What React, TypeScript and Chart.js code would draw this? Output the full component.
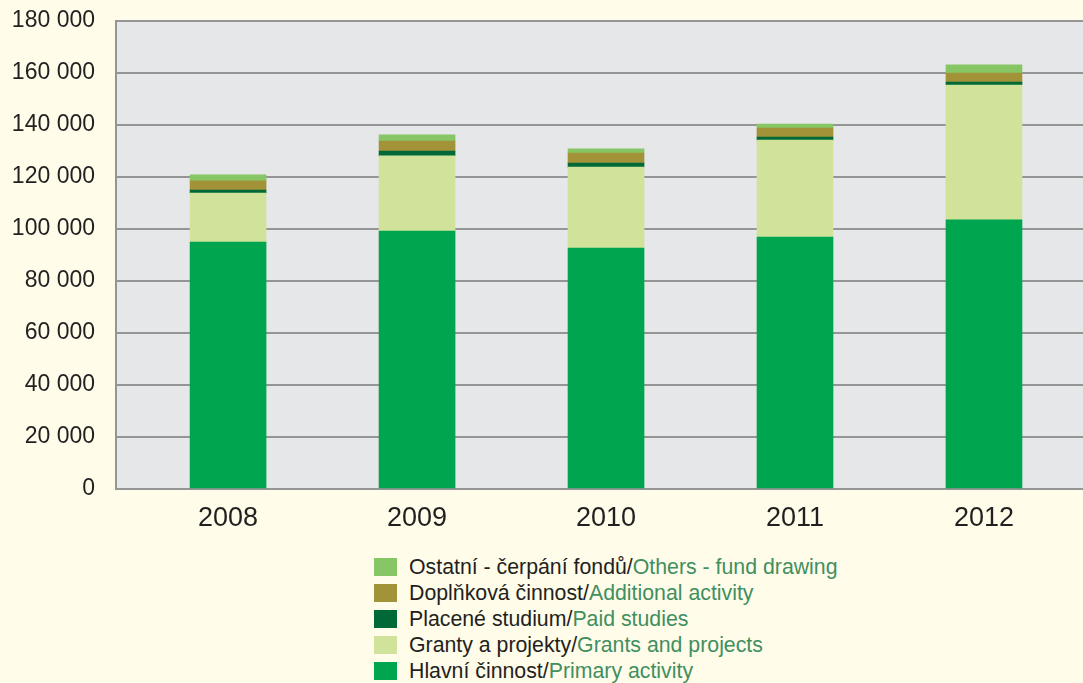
import React, { useEffect, useRef } from "react";
import { Chart, registerables } from "chart.js";

Chart.register(...registerables);

const years = ["2008", "2009", "2010", "2011", "2012"];
const primaryActivity = [95000, 99200, 92700, 96900, 103500];
const grantsProjects = [18800, 28900, 31100, 37300, 51900];
const paidStudies = [1200, 1900, 1600, 1200, 1100];
const additionalActivity = [3500, 3800, 3800, 3400, 3500];
const othersFund = [2300, 2400, 1600, 1600, 3100];
const yTicks = [0, 20000, 40000, 60000, 80000, 100000, 120000, 140000, 160000, 180000];

const series = [
  { cz: "Hlavní činnost/", en: "Primary activity", color: "#00A54F", data: primaryActivity },
  { cz: "Granty a projekty/", en: "Grants and projects", color: "#D1E39B", data: grantsProjects },
  { cz: "Placené studium/", en: "Paid studies", color: "#006937", data: paidStudies },
  { cz: "Doplňková činnost/", en: "Additional activity", color: "#A29338", data: additionalActivity },
  { cz: "Ostatní - čerpání fondů/", en: "Others - fund drawing", color: "#86C665", data: othersFund },
];

const FONT = "'Liberation Sans', Arial, Helvetica, sans-serif";
const W = 1083;
const CANVAS_H = 540;

const fmt = (v: number) => String(v).replace(/\B(?=(\d{3})+(?!\d))/g, " ");

const plotBg = {
  id: "plotBg",
  beforeDraw(chart: any) {
    const { ctx, chartArea } = chart;
    ctx.save();
    ctx.fillStyle = "#E6E7E9";
    ctx.fillRect(chartArea.left, chartArea.top, chartArea.right - chartArea.left, chartArea.bottom - chartArea.top);
    ctx.restore();
  },
};

export default function App() {
  const ref = useRef<HTMLCanvasElement | null>(null);

  useEffect(() => {
    if (!ref.current) return;
    const chart = new Chart(ref.current, {
      type: "bar",
      data: {
        datasets: series.map((s) => ({
          label: s.cz + s.en,
          data: s.data.map((v, i) => ({ x: i, y: v })),
          backgroundColor: s.color,
          borderWidth: 0,
          barThickness: 76,
        })),
      },
      options: {
        animation: false,
        responsive: false,
        maintainAspectRatio: false,
        layout: { padding: { top: 21, left: 0, right: 0, bottom: 0 } },
        plugins: { legend: { display: false }, tooltip: { enabled: false } },
        scales: {
          x: {
            type: "linear",
            stacked: true,
            offset: false,
            min: -0.593,
            max: 4.524,
            grid: { display: false },
            border: { display: true, color: "#959595", width: 2 },
            afterBuildTicks: (s: any) => {
              s.ticks = years.map((_, i) => ({ value: i }));
            },
            afterFit: (s: any) => {
              s.height = CANVAS_H - 489;
              s.paddingLeft = 0;
              s.paddingRight = 0;
            },
            ticks: {
              autoSkip: false,
              padding: 5,
              color: "#231F20",
              font: { family: FONT, size: 27 },
              callback: (v: any) => years[v as number] ?? "",
            },
          },
          y: {
            stacked: true,
            min: 0,
            max: 180000,
            afterBuildTicks: (s: any) => {
              s.ticks = yTicks.map((v) => ({ value: v }));
            },
            afterFit: (s: any) => {
              s.width = 116;
              s.paddingTop = 0;
              s.paddingBottom = 0;
            },
            grid: { color: "#959595", lineWidth: 2, drawTicks: false },
            border: { display: true, color: "#959595", width: 2 },
            ticks: {
              padding: 21,
              color: "#231F20",
              font: { family: FONT, size: 23 },
              callback: (v: any) => fmt(v as number),
            },
          },
        },
      },
      plugins: [plotBg],
    });
    return () => chart.destroy();
  }, []);

  const legendItems = [...series].reverse();

  return (
    <div
      style={{
        position: "absolute",
        left: 0,
        top: 0,
        width: W,
        height: 683,
        background: "#FFFCEA",
        overflow: "hidden",
        fontFamily: FONT,
      }}
    >
      <canvas ref={ref} width={W} height={CANVAS_H} style={{ position: "absolute", left: 0, top: 0, width: W, height: CANVAS_H }} />
      <div style={{ position: "absolute", left: 374, top: 554 }}>
        {legendItems.map((s) => (
          <div key={s.en} style={{ display: "flex", alignItems: "center", height: 26 }}>
            <span style={{ display: "inline-block", width: 23, height: 18, background: s.color, marginRight: 12, flex: "none" }} />
            <span style={{ fontSize: 21.3, color: "#231F20", whiteSpace: "nowrap" }}>
              {s.cz}
              <span style={{ color: "#3F8F5F" }}>{s.en}</span>
            </span>
          </div>
        ))}
      </div>
    </div>
  );
}
